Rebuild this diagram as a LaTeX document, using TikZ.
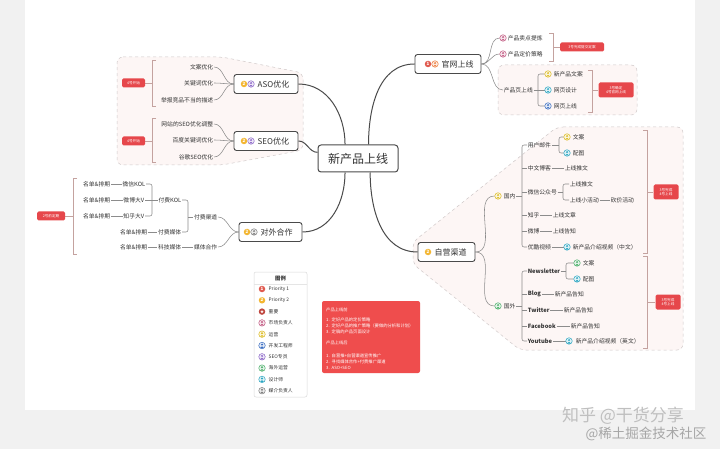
\documentclass[tikz,border=0pt]{standalone}
\usepackage{fontspec}
\setmainfont{Noto Sans CJK SC}
\usetikzlibrary{calc}
\pgfdeclarelayer{back}
\pgfdeclarelayer{lines}
\pgfsetlayers{back,lines,main}
\definecolor{txt}{HTML}{333333}
\definecolor{linec}{HTML}{8C8C8C}
\definecolor{mainline}{HTML}{4A4A4A}
\definecolor{tagred}{HTML}{E6474B}
\definecolor{notered}{HTML}{EF4D4D}
\definecolor{regfill}{HTML}{FDF6F5}
\definecolor{regdraw}{HTML}{CFC8C8}
\definecolor{brk}{HTML}{C4A29F}
\definecolor{bgray}{HTML}{F1F1F1}
\definecolor{pone}{HTML}{E05A4F}
\definecolor{ptwo}{HTML}{F3B632}
\definecolor{imp}{HTML}{C0473F}
\definecolor{mkt}{HTML}{C25A82}
\definecolor{ops}{HTML}{DDBB22}
\definecolor{dev}{HTML}{3C6FC2}
\definecolor{seoc}{HTML}{8B66C8}
\definecolor{ovs}{HTML}{4DB06B}
\definecolor{dsg}{HTML}{2CA6C2}
\definecolor{mdm}{HTML}{808080}
\definecolor{orng}{HTML}{EE7D3B}
\begin{document}
\begin{tikzpicture}[x=1pt,y=-1pt,
  tx/.style={font=\fontsize{5.8}{6.5}\selectfont, text=txt, inner sep=0.6pt},
  rt/.style={tx, anchor=west},
  lt/.style={tx, anchor=east},
  rtb/.style={rt, font=\fontsize{5.8}{6.5}\selectfont\bfseries},
  mainbox/.style={draw=mainline, line width=0.9pt, rounded corners=2.5pt, fill=white, minimum height=19pt, inner sep=0pt},
  mtxt/.style={anchor=west, font=\fontsize{8}{9}\selectfont, text=txt, inner sep=0.5pt},
  ctrbox/.style={draw=mainline, line width=1pt, rounded corners=3pt, fill=white, minimum width=80pt, minimum height=27pt, font=\fontsize{12}{13}\selectfont, text=txt},
  tag/.style={fill=tagred, rounded corners=1.5pt, text=white, font=\fontsize{3.6}{4.4}\selectfont, inner xsep=2pt, inner ysep=1.5pt, align=center, minimum height=9pt},
  conn/.style={draw=linec, line width=0.55pt},
  mconn/.style={draw=mainline, line width=1pt},
  brkst/.style={draw=brk, line width=0.6pt},
  region/.style={draw=regdraw, dashed, fill=regfill, rounded corners=6pt, line width=0.5pt},
  numico/.style={circle, fill=#1, text=white, inner sep=0pt, minimum size=6.5pt, font=\fontsize{4.5}{4.5}\selectfont\bfseries},
  perico/.style={circle, draw=#1, line width=0.5pt, fill=#1!15, inner sep=0pt, minimum size=6.5pt,
    path picture={
      \fill[#1] ($(path picture bounding box.center)+(0pt,0.9pt)$) circle (1.1pt);
      \fill[#1] ($(path picture bounding box.center)+(-1.9pt,-2.5pt)$) arc[start angle=180,end angle=0,x radius=1.9pt,y radius=1.7pt] -- cycle;
    }},
  legtx/.style={anchor=west, font=\fontsize{4.8}{5.5}\selectfont, text=txt, inner sep=0.5pt},
  notetx/.style={anchor=west, font=\fontsize{4.3}{5}\selectfont, text=white, inner sep=0pt}
]
\useasboundingbox (0,0) rectangle (720,449);

% ---------- background and regions
\begin{pgfonlayer}{back}
\fill[bgray] (0,0) rectangle (720,449);
\fill[white] (25,0) rectangle (695,410);
\draw[region] (117,57) -- (222,57) -- (303,73) -- (303,150) -- (222,165) -- (117,165) -- cycle;
\draw[region] (557,127) -- (683,127) -- (683,350) -- (520,350) -- (413,264) -- (413,242) -- cycle;
\draw[region] (498,65) rectangle (637,115);
\end{pgfonlayer}

% ---------- centre and main branches
\node[ctrbox] (ctr) at (358,158.5) {新产品上线};

\node[mainbox, minimum width=66pt] (gw) at (448,64) {};
\node[numico=pone] (gwi1) at (428,64) {1};
\node[perico=orng] (gwi2) at (435,64) {};
\node[mtxt] (gwt) at (441,64) {官网上线};

\node[mainbox, minimum width=57pt] (zy) at (446.5,252) {};
\node[numico=ptwo] (zyi) at (428,252) {2};
\node[mtxt] (zyt) at (434,252) {自营渠道};

\node[mainbox, minimum width=64pt] (aso) at (266,84) {};
\node[numico=ptwo] (asoi1) at (244,84) {2};
\node[perico=seoc] (asoi2) at (251,84) {};
\node[mtxt] (asot) at (257,84) {ASO优化};

\node[mainbox, minimum width=64pt] (seo) at (266,141) {};
\node[numico=ptwo] (seoi1) at (244,141) {2};
\node[perico=seoc] (seoi2) at (251,141) {};
\node[mtxt] (seot) at (257,141) {SEO优化};

\node[mainbox, minimum width=63pt] (dw) at (270.5,232) {};
\node[numico=ptwo] (dwi1) at (247,232) {2};
\node[perico=mdm] (dwi2) at (254,232) {};
\node[mtxt] (dwt) at (260,232) {对外合作};

% ---------- 官网上线 children
\node[perico=mkt] (gwa_i) at (503,38) {};
\node[rt] (gwa) at (507,38) {产品卖点提炼};
\node[perico=mkt] (gwb_i) at (503,54) {};
\node[rt] (gwb) at (507,54) {产品定价策略};
\node[tag, minimum width=44pt] (tag1) at (582,47) {3号完成提交定案};
\node[rt] (ypsx) at (503,90) {产品页上线};
\coordinate (ypv) at (538,90);
\node[perico=ops] (ypa_i) at (548,74) {};
\node[rt] (ypa) at (553,74) {新产品文案};
\node[perico=dsg] (ypb_i) at (548,90) {};
\node[rt] (ypb) at (553,90) {网页设计};
\node[perico=dev] (ypc_i) at (548,106) {};
\node[rt] (ypc) at (553,106) {网页上线};
\node[tag, minimum width=35pt, minimum height=15pt] (tag2) at (616,90) {3号确定\\4号官网上线};

% ---------- 自营渠道 children
\node[perico=ops] (gn_i) at (498,196) {};
\node[rt] (gn) at (503,196) {国内};
\node[perico=ovs] (gwx_i) at (498,306) {};
\node[rt] (gwx) at (503,306) {国外};
\coordinate (gnv) at (522,196);
\coordinate (gwv) at (522,306);

\node[rt] (yhyj) at (527,145) {用户邮件};
\coordinate (yhv) at (559,145);
\node[perico=ops] (ya_i) at (567,137) {};
\node[rt] (ya) at (572,137) {文案};
\node[perico=dsg] (yb_i) at (567,153) {};
\node[rt] (yb) at (572,153) {配图};
\node[rt] (zwbk) at (527,168) {中文博客};
\node[rt] (zwtw) at (564,168) {上线推文};
\node[rt] (wx) at (527,192) {微信公众号};
\coordinate (wxv) at (563,192);
\node[rt] (wxtw) at (569,184) {上线推文};
\node[rt] (wxhd) at (569,200) {上线小活动};
\node[rt] (kjhd) at (610,200) {砍价活动};
\node[rt] (zh) at (527,215) {知乎};
\node[rt] (zhwz) at (552,215) {上线文章};
\node[rt] (wb) at (527,231) {微博};
\node[rt] (wbgz) at (552,231) {上线告知};
\node[rt] (yk) at (527,247) {优酷视频};
\node[perico=dsg] (ykv_i) at (567,247) {};
\node[rt] (ykv) at (572,247) {新产品介绍视频（中文）};
\node[tag, minimum width=25pt, minimum height=15pt] (tag3) at (666,192) {3号完成\\4号上线};

\node[rtb] (nl) at (527,271) {Newsletter};
\coordinate (nlv) at (566,271);
\node[perico=ovs] (na_i) at (577,263) {};
\node[rt] (na) at (582,263) {文案};
\node[perico=dsg] (nb_i) at (577,279) {};
\node[rt] (nb) at (582,279) {配图};
\node[rtb] (blog) at (527,294) {Blog};
\node[rt] (blogz) at (554,294) {新产品告知};
\node[rtb] (tw) at (527,310) {Twitter};
\node[rt] (twz) at (563,310) {新产品告知};
\node[rtb] (fb) at (527,326) {Facebook};
\node[rt] (fbz) at (570,326) {新产品告知};
\node[rtb] (yt) at (527,341) {Youtube};
\node[perico=dsg] (ytv_i) at (569,341) {};
\node[rt] (ytv) at (575,341) {新产品介绍视频（英文）};
\node[tag, minimum width=25pt, minimum height=15pt] (tag4) at (668,302) {3号完成\\4号上线};

% ---------- ASO / SEO children
\node[lt] (a1) at (214,67) {文案优化};
\node[lt] (a2) at (214,83) {关键词优化};
\node[lt] (a3) at (214,100) {举报竞品不当的描述};
\node[tag, minimum width=23pt] (tag5) at (133.5,83) {4号开始};
\node[lt] (s1) at (214,124) {网站的SEO优化调整};
\node[lt] (s2) at (214,140) {百度关键词优化};
\node[lt] (s3) at (214,157) {谷歌SEO优化};
\node[tag, minimum width=23pt] (tag6) at (133.5,141) {4号开始};

% ---------- 对外合作 children
\node[lt] (ffqd) at (218,217) {付费渠道};
\node[lt] (mthz) at (218,247) {媒体合作};
\coordinate (ffv) at (188,216);
\node[lt] (ffkol) at (182,200) {付费KOL};
\node[lt] (ffmt) at (182,232) {付费媒体};
\coordinate (kolv) at (152,200);
\node[lt] (wxkol) at (146,184) {微信KOL};
\node[lt] (wbdv) at (145,200) {微博大V};
\node[lt] (zhdv) at (145,216) {知乎大V};
\node[lt] (md1) at (111,184) {名单\&排期};
\node[lt] (md2) at (111,200) {名单\&排期};
\node[lt] (md3) at (111,216) {名单\&排期};
\node[lt] (md4) at (148,232) {名单\&排期};
\node[lt] (kjmt) at (182,247) {科技媒体};
\node[lt] (md5) at (148,247) {名单\&排期};
\node[tag, minimum width=28pt] (tag7) at (51,216) {2号前定期};

% ---------- connectors
\begin{pgfonlayer}{lines}
\draw[mconn] ($(ctr.north west)!0.34!(ctr.north east)$) to[out=90,in=0] (aso.east);
\draw[mconn] ($(ctr.north west)!0.28!(ctr.south west)$) to[out=180,in=0] (seo.east);
\draw[mconn] ($(ctr.north west)!0.63!(ctr.north east)$) to[out=90,in=180] (gw.west);
\draw[mconn] ($(ctr.south west)!0.65!(ctr.south east)$) to[out=-90,in=180] (zy.west);
\draw[mconn] ($(ctr.south west)!0.34!(ctr.south east)$) to[out=-90,in=0] (dw.east);

% 官网上线
\draw[conn] (gw.east) to[out=0,in=180] (gwa_i.west);
\draw[conn] (gw.east) to[out=0,in=180] (gwb_i.west);
\draw[conn] (gw.east) to[out=0,in=180] (ypsx.west);
\draw[brkst] (549,33) -- (553,33) -- (553,61) -- (549,61);
\draw[brkst] (553,47) -- (tag1.west);
\draw[conn] (ypsx.east) -- (ypb_i.west);
\draw[conn, rounded corners=2pt] (ypa_i.west) -| (ypv) |- (ypc_i.west);
\draw[brkst] (588,70) -- (592,70) -- (592,112) -- (588,112);
\draw[brkst] (592,90) -- (tag2.west);

% 自营渠道
\draw[conn] (zy.east) to[out=0,in=180] (gn_i.west);
\draw[conn] (zy.east) to[out=0,in=180] (gwx_i.west);
\draw[conn] (gn.east) -- (gnv);
\draw[conn, rounded corners=2pt] (yhyj.west) -| (gnv) |- (yk.west);
\draw[conn] (zwbk.west) -- (zwbk.west -| gnv);
\draw[conn] (wx.west) -- (wx.west -| gnv);
\draw[conn] (zh.west) -- (zh.west -| gnv);
\draw[conn] (wb.west) -- (wb.west -| gnv);
\draw[conn] (yhyj.east) -- (yhv);
\draw[conn, rounded corners=2pt] (ya_i.west) -| (yhv) |- (yb_i.west);
\draw[conn] (zwbk.east) -- (zwtw.west);
\draw[conn] (wx.east) -- (wxv);
\draw[conn, rounded corners=2pt] (wxtw.west) -| (wxv) |- (wxhd.west);
\draw[conn] (wxhd.east) -- (kjhd.west);
\draw[conn] (zh.east) -- (zhwz.west);
\draw[conn] (wb.east) -- (wbgz.west);
\draw[conn] (yk.east) -- (ykv_i.west);
\draw[brkst] (643,130) -- (647,130) -- (647,253) -- (643,253);
\draw[brkst] (647,192) -- (tag3.west);

\draw[conn] (gwx.east) -- (gwv);
\draw[conn, rounded corners=2pt] (nl.west) -| (gwv) |- (yt.west);
\draw[conn] (blog.west) -- (blog.west -| gwv);
\draw[conn] (tw.west) -- (tw.west -| gwv);
\draw[conn] (fb.west) -- (fb.west -| gwv);
\draw[conn] (nl.east) -- (nlv);
\draw[conn, rounded corners=2pt] (na_i.west) -| (nlv) |- (nb_i.west);
\draw[conn] (blog.east) -- (blogz.west);
\draw[conn] (tw.east) -- (twz.west);
\draw[conn] (fb.east) -- (fbz.west);
\draw[conn] (yt.east) -- (ytv_i.west);
\draw[brkst] (643,256) -- (647,256) -- (647,348) -- (643,348);
\draw[brkst] (647,302) -- (tag4.west);

% ASO / SEO
\draw[conn] (aso.west) to[out=180,in=0] (a1.east);
\draw[conn] (aso.west) to[out=180,in=0] (a2.east);
\draw[conn] (aso.west) to[out=180,in=0] (a3.east);
\draw[brkst] (156,60) -- (152,60) -- (152,106) -- (156,106);
\draw[brkst] (tag5.east) -- (152,83);
\draw[conn] (seo.west) to[out=180,in=0] (s1.east);
\draw[conn] (seo.west) to[out=180,in=0] (s2.east);
\draw[conn] (seo.west) to[out=180,in=0] (s3.east);
\draw[brkst] (156,118) -- (152,118) -- (152,162) -- (156,162);
\draw[brkst] (tag6.east) -- (152,141);

% 对外合作
\draw[conn] (dw.west) to[out=180,in=0] (ffqd.east);
\draw[conn] (dw.west) to[out=180,in=0] (mthz.east);
\draw[conn] (ffqd.west) -- (ffqd.west -| ffv);
\draw[conn, rounded corners=2pt] (ffkol.east) -| (ffv) |- (ffmt.east);
\draw[conn] (wbdv.east) -- (ffkol.west);
\draw[conn, rounded corners=2pt] (wxkol.east) -| (kolv) |- (zhdv.east);
\draw[conn] (md1.east) -- (wxkol.west);
\draw[conn] (md2.east) -- (wbdv.west);
\draw[conn] (md3.east) -- (zhdv.west);
\draw[conn] (md4.east) -- (ffmt.west);
\draw[conn] (md5.east) -- (kjmt.west);
\draw[conn] (kjmt.east) -- (mthz.west);
\draw[brkst] (77,178) -- (73,178) -- (73,254) -- (77,254);
\draw[brkst] (tag7.east) -- (73,216);
\end{pgfonlayer}

% ---------- legend
\draw[draw=black!15, fill=white, rounded corners=2pt, line width=0.5pt] (254,272) rectangle (307,397);
\draw[draw=black!10, line width=0.4pt] (254,284) -- (307,284);
\node[font=\fontsize{5.3}{6}\selectfont\bfseries, text=txt] (legt) at (280.5,278) {图例};
\node[numico=pone] (l1i) at (262,289) {1};
\node[legtx] (l1) at (268,289) {Priority 1};
\node[numico=ptwo] (l2i) at (262,300.3) {2};
\node[legtx] (l2) at (268,300.3) {Priority 2};
\node[numico=imp] (l3i) at (262,311.6) {\fontsize{4}{4}\selectfont ★};
\node[legtx] (l3) at (268,311.6) {重要};
\node[perico=mkt] (l4i) at (262,322.9) {};
\node[legtx] (l4) at (268,322.9) {市场负责人};
\node[perico=ops] (l5i) at (262,334.2) {};
\node[legtx] (l5) at (268,334.2) {运营};
\node[perico=dev] (l6i) at (262,345.5) {};
\node[legtx] (l6) at (268,345.5) {开发工程师};
\node[perico=seoc] (l7i) at (262,356.8) {};
\node[legtx] (l7) at (268,356.8) {SEO专员};
\node[perico=ovs] (l8i) at (262,368.1) {};
\node[legtx] (l8) at (268,368.1) {海外运营};
\node[perico=dsg] (l9i) at (262,379.4) {};
\node[legtx] (l9) at (268,379.4) {设计师};
\node[perico=mdm] (l10i) at (262,390.7) {};
\node[legtx] (l10) at (268,390.7) {媒介负责人};

% ---------- note box
\fill[notered, rounded corners=2pt] (322,301) rectangle (420,373);
\node[notetx] (n1) at (326,310) {产品上线前};
\node[notetx] (n2) at (326,320) {1.\ \ 定好产品的定价策略};
\node[notetx] (n3) at (326,326) {2.\ \ 定好产品的推广策略（要做的分析和计划）};
\node[notetx] (n4) at (326,332) {3.\ \ 定稿的产品页面设计};
\node[notetx] (n5) at (326,343) {产品上线后};
\node[notetx] (n6) at (326,356) {1.\ \ 自营推+自营渠道宣传推广};
\node[notetx] (n7) at (326,362) {2.\ \ 寻找媒体合作+付费推广渠道};
\node[notetx] (n8) at (326,368) {3.\ \ ASO+SEO};

% ---------- watermark
\node[font=\fontsize{17}{18}\selectfont, text=black!25] (wm1) at (623,416) {知乎 @干货分享};
\node[font=\fontsize{13.5}{14}\selectfont, text=black!35] (wm2) at (646,434) {@稀土掘金技术社区};
\end{tikzpicture}
\end{document}
